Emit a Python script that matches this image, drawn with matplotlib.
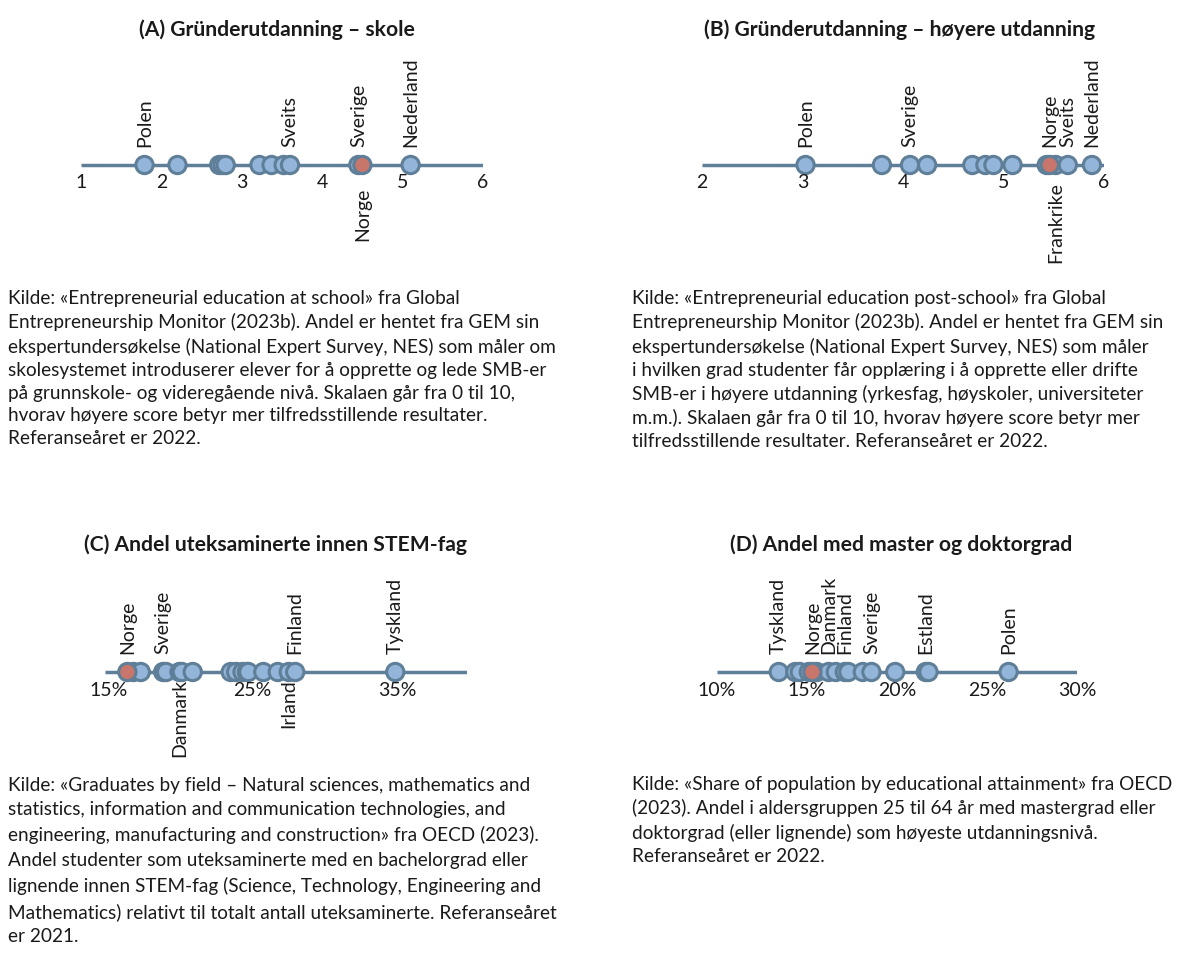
import numpy as np
import matplotlib
matplotlib.use("Agg")
import matplotlib.pyplot as plt

plt.rcParams['font.family'] = ['Lato', 'DejaVu Sans']

# (A) Gründerutdanning - skole
a_vals = [1.79, 2.20, 2.72, 2.76, 2.80, 3.22, 3.37, 3.52, 3.60, 4.45, 5.10, 4.50]
a_lbls = ['Polen', '', '', '', '', '', '', '', 'Sveits', 'Sverige', 'Nederland', 'Norge']
a_side = ['up', '', '', '', '', '', '', '', 'up', 'up', 'up', 'down']
a_ticks = [1, 2, 3, 4, 5, 6]

# (B) Gründerutdanning - høyere utdanning
b_vals = [3.03, 3.79, 4.07, 4.24, 4.69, 4.82, 4.90, 5.09, 5.43, 5.52, 5.64, 5.88, 5.46]
b_lbls = ['Polen', '', 'Sverige', '', '', '', '', '', '', 'Frankrike', 'Sveits', 'Nederland', 'Norge']
b_side = ['up', '', 'up', '', '', '', '', '', '', 'down', 'up', 'up', 'up']
b_ticks = [2, 3, 4, 5, 6]

# (C) Andel uteksaminerte innen STEM-fag (%)
c_vals = [16.74, 17.25, 18.8, 19.0, 19.93, 20.1, 20.85, 23.48, 23.85, 24.3, 24.6, 24.7,
          25.74, 26.74, 27.5, 27.95, 34.88, 16.32]
c_lbls = ['', '', 'Sverige', '', 'Danmark', '', '', '', '', '', '', '',
          '', '', 'Irland', 'Finland', 'Tyskland', 'Norge']
c_side = ['', '', 'up', '', 'down', '', '', '', '', '', '', '',
          '', '', 'down', 'up', 'up', 'up']
c_ticks = [15, 25, 35]

# (D) Andel med master og doktorgrad (%)
d_vals = [13.43, 14.35, 14.6, 15.1, 15.55, 16.2, 16.6, 17.1, 17.3, 18.1, 18.58, 19.9,
          21.6, 21.75, 26.2, 15.3]
d_lbls = ['Tyskland', '', '', '', '', 'Danmark', '', 'Finland', '', '', 'Sverige', '',
          'Estland', '', 'Polen', 'Norge']
d_side = ['up', '', '', '', '', 'up', '', 'up', '', '', 'up', '',
          'up', '', 'up', 'up']
d_ticks = [10, 15, 20, 25, 30]

titles = ['(A) Gründerutdanning – skole',
          '(B) Gründerutdanning – høyere utdanning',
          '(C) Andel uteksaminerte innen STEM-fag',
          '(D) Andel med master og doktorgrad']

captions = [
    "Kilde: «Entrepreneurial education at school» fra Global\n"
    "Entrepreneurship Monitor (2023b). Andel er hentet fra GEM sin\n"
    "ekspertundersøkelse (National Expert Survey, NES) som måler om\n"
    "skolesystemet introduserer elever for å opprette og lede SMB-er\n"
    "på grunnskole- og videregående nivå. Skalaen går fra 0 til 10,\n"
    "hvorav høyere score betyr mer tilfredsstillende resultater.\n"
    "Referanseåret er 2022.",
    "Kilde: «Entrepreneurial education post-school» fra Global\n"
    "Entrepreneurship Monitor (2023b). Andel er hentet fra GEM sin\n"
    "ekspertundersøkelse (National Expert Survey, NES) som måler\n"
    "i hvilken grad studenter får opplæring i å opprette eller drifte\n"
    "SMB-er i høyere utdanning (yrkesfag, høyskoler, universiteter\n"
    "m.m.). Skalaen går fra 0 til 10, hvorav høyere score betyr mer\n"
    "tilfredsstillende resultater. Referanseåret er 2022.",
    "Kilde: «Graduates by field – Natural sciences, mathematics and\n"
    "statistics, information and communication technologies, and\n"
    "engineering, manufacturing and construction» fra OECD (2023).\n"
    "Andel studenter som uteksaminerte med en bachelorgrad eller\n"
    "lignende innen STEM-fag (Science, Technology, Engineering and\n"
    "Mathematics) relativt til totalt antall uteksaminerte. Referanseåret\n"
    "er 2021.",
    "Kilde: «Share of population by educational attainment» fra OECD\n"
    "(2023). Andel i aldersgruppen 25 til 64 år med mastergrad eller\n"
    "doktorgrad (eller lignende) som høyeste utdanningsnivå.\n"
    "Referanseåret er 2022.",
]

W, H = 1200, 977
fig = plt.figure(figsize=(12, 9.77), dpi=100)

line_col = '#5f7f99'
fill_col = '#93b5d9'
norge_col = '#c8766b'
txt_col = '#1a1a1a'

# vals, labels, side, ticks, pixel span, line y (px), xlim, tick format, offset of labels below
panels = [
    (a_vals, a_lbls, a_side, a_ticks, (81, 483), 165, (1, 6), '{}', 23),
    (b_vals, b_lbls, b_side, b_ticks, (702, 1104), 165, (2, 6), '{}', 17),
    (c_vals, c_lbls, c_side, c_ticks, (105, 467), 672, (14.77, 39.85), '{}%', 7),
    (d_vals, d_lbls, d_side, d_ticks, (717, 1077), 672, (10, 30), '{}%', 10),
]
title_pos = [(277, 30), (900, 30), (275, 545), (901, 545)]
cap_pos = [(8, 290), (632, 290), (8, 777), (632, 776)]
cap_spacing = [1.42, 1.42, 1.53, 1.42]

for i, (vals, lbls, side, ticks, (x0, x1), ly, xlim, fmt, dn) in enumerate(panels):
    ax = fig.add_axes([x0 / W, (H - ly - 50) / H, (x1 - x0) / W, 100 / H])
    ax.set_xlim(*xlim)
    ax.set_ylim(-1, 1)
    ax.axis('off')
    ax.plot(xlim, [0, 0], color=line_col, lw=2.5, zorder=1, solid_capstyle='butt')
    n = len(vals)
    cols = [fill_col] * (n - 1) + [norge_col]
    ax.scatter(vals, np.zeros(n), s=155, c=cols, edgecolors=line_col,
               linewidths=2.2, zorder=3)
    for v, lb, sd in zip(vals, lbls, side):
        if not lb:
            continue
        if sd == 'up':
            ax.annotate(lb, (v, 0), xytext=(0, 18), textcoords='offset pixels',
                        rotation=90, ha='center', va='bottom', fontsize=14, color=txt_col)
        else:
            ax.annotate(lb, (v, 0), xytext=(0, -dn), textcoords='offset pixels',
                        rotation=90, ha='center', va='top', fontsize=14, color=txt_col)
    for t in ticks:
        ax.annotate(fmt.format(t), (t, 0), xytext=(0, -18), textcoords='offset pixels',
                    ha='center', va='center', fontsize=14, color=txt_col)
    tx, ty = title_pos[i]
    fig.text(tx / W, 1 - ty / H, titles[i], ha='center', va='center',
             fontsize=15.2, fontweight='bold', color=txt_col)
    cx, cy = cap_pos[i]
    fig.text(cx / W, 1 - cy / H, captions[i], ha='left', va='top',
             fontsize=13.7, color=txt_col, linespacing=cap_spacing[i])

fig.savefig('out.png', dpi=100)
